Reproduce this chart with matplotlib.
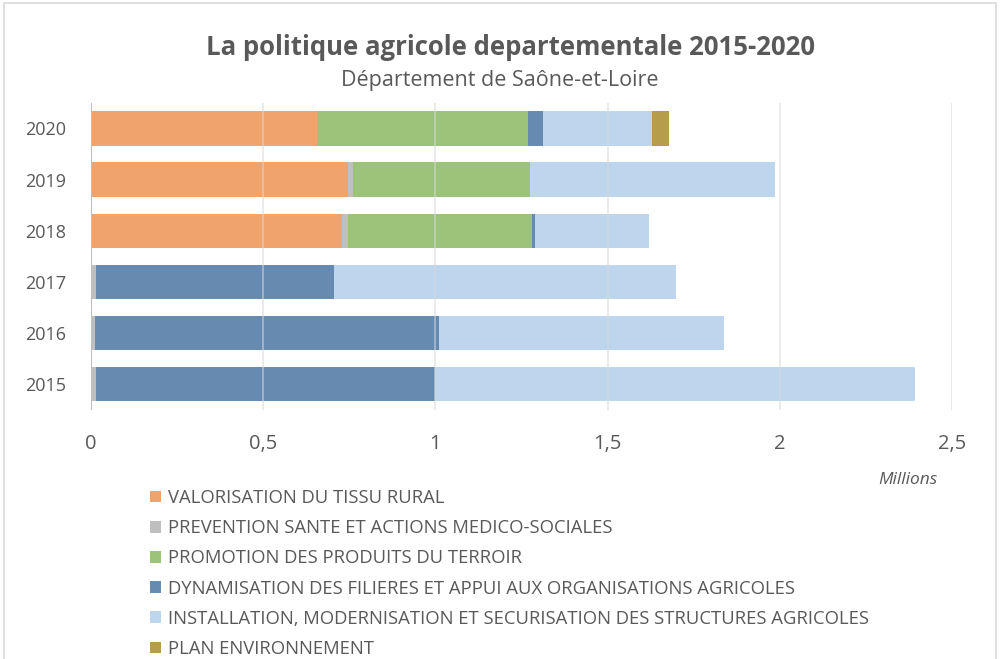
import numpy as np
import matplotlib
matplotlib.use("Agg")
import matplotlib.pyplot as plt
from matplotlib.lines import Line2D
from matplotlib.patches import Patch

plt.rcParams['font.family'] = ['Open Sans', 'DejaVu Sans']

# donnees (en millions d'euros)
years = ['2015', '2016', '2017', '2018', '2019', '2020']
valorisation = [0, 0, 0, 0.730, 0.745, 0.655]
prevention = [0.014, 0.013, 0.014, 0.015, 0.016, 0]
promotion = [0, 0, 0, 0.536, 0.514, 0.613]
dynamisation = [0.984, 0.997, 0.693, 0.008, 0, 0.045]
installation = [1.394, 0.828, 0.993, 0.331, 0.711, 0.316]
plan_env = [0, 0, 0, 0, 0, 0.049]

series = [
    ('VALORISATION DU TISSU RURAL', valorisation, '#F0A46C'),
    ('PREVENTION SANTE ET ACTIONS MEDICO-SOCIALES', prevention, '#BFBFBF'),
    ('PROMOTION DES PRODUITS DU TERROIR', promotion, '#9BC37A'),
    ('DYNAMISATION DES FILIERES ET APPUI AUX ORGANISATIONS AGRICOLES', dynamisation, '#678BB0'),
    ('INSTALLATION, MODERNISATION ET SECURISATION DES STRUCTURES AGRICOLES', installation, '#BDD6EE'),
    ('PLAN ENVIRONNEMENT', plan_env, '#B79D4B'),
]

txt = '#595959'

fig = plt.figure(figsize=(10, 6.59), dpi=100)
ax = fig.add_axes([0.091, 0.378, 0.861, 0.466])

y = np.arange(len(years))
left = np.zeros(len(years))
for name, vals, col in series:
    ax.barh(y, vals, left=left, height=0.67, color=col, zorder=2, linewidth=0)
    left += np.array(vals)

ax.set_xlim(0, 2.5)
ax.set_ylim(-0.5, 5.5)
ax.set_yticks(y)
ax.set_yticklabels(years)
ax.set_xticks([0, 0.5, 1, 1.5, 2, 2.5])
ax.set_xticklabels(['0', '0,5', '1', '1,5', '2', '2,5'])
ax.tick_params(axis='x', length=0, pad=17, labelsize=14.5, labelcolor=txt)
ax.tick_params(axis='y', length=0, pad=18, labelsize=13, labelcolor=txt)
for s in ax.spines.values():
    s.set_visible(False)
ax.axvline(0, color='#BFBFBF', lw=1.5, zorder=3)
for xv in [0.5, 1, 1.5, 2, 2.5]:
    ax.axvline(xv, color='#D9D9D9', lw=1.2, zorder=3, alpha=0.6)

fig.text(0.908, 0.266, 'Millions', style='italic', fontsize=12.5, color=txt, ha='center')

fig.text(0.51, 0.917, 'La politique agricole departementale 2015-2020',
         fontsize=18.5, fontweight='bold', color=txt, ha='center')
fig.text(0.50, 0.870, 'Département de Saône-et-Loire', fontsize=15.5, color=txt, ha='center')

handles = [Patch(facecolor=c, edgecolor='none') for n, v, c in series]
labels = [n for n, v, c in series]
fig.legend(handles, labels, loc='upper left', bbox_to_anchor=(0.150, 0.258),
           frameon=False, fontsize=13.3, labelcolor=txt, handlelength=0.6,
           handleheight=0.6, handletextpad=0.4, labelspacing=0.66, borderaxespad=0,
           borderpad=0)

# cadre (gauche, haut, droite)
fig.lines.append(Line2D([0.004, 0.004, 0.996, 0.996], [0.0, 0.995, 0.995, 0.0],
                        transform=fig.transFigure, color='#D9D9D9', lw=1.2))

fig.savefig('out.png', dpi=100, facecolor='white')
